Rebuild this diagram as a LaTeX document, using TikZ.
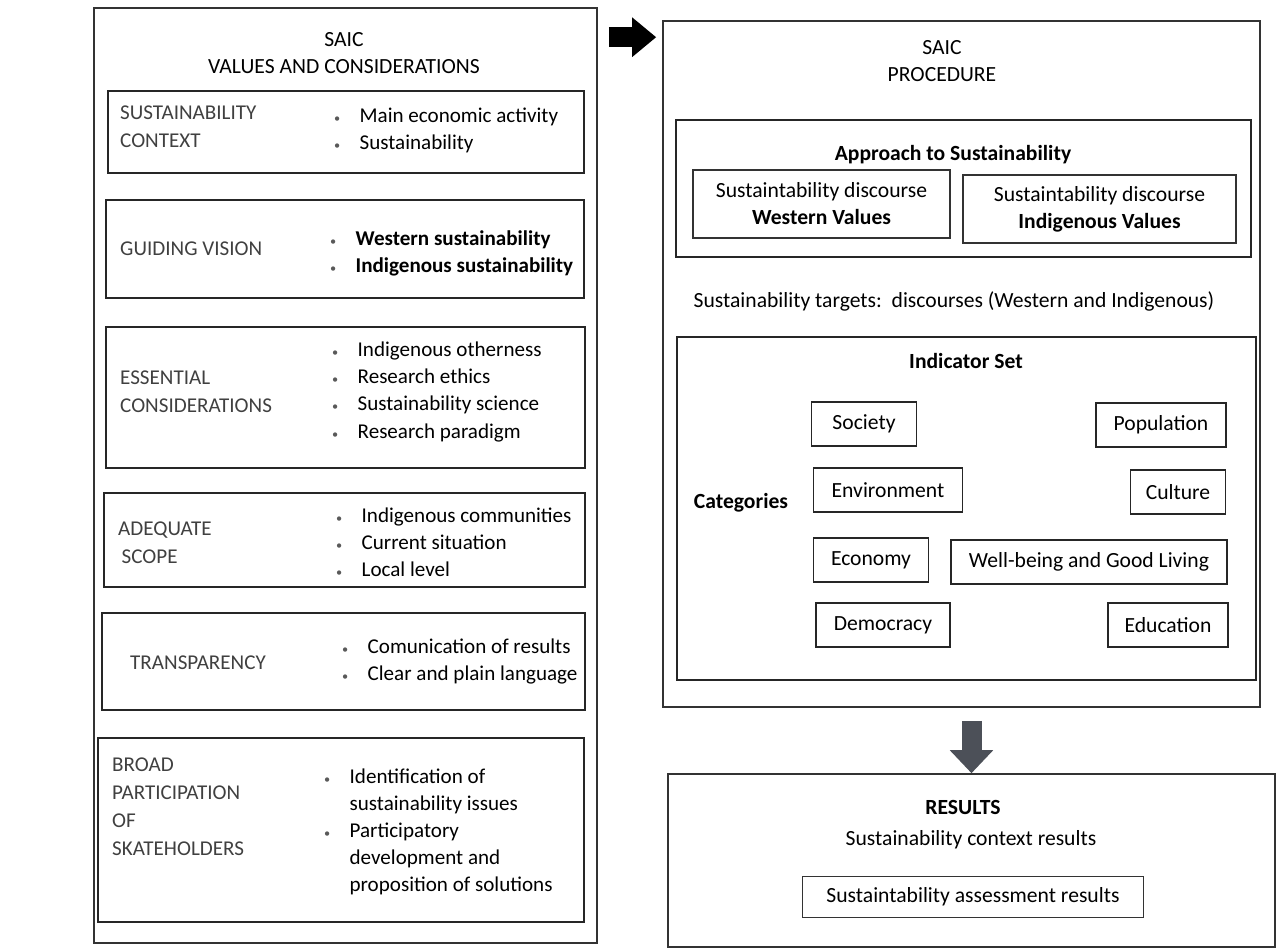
\documentclass[tikz,border=0pt]{standalone}
\usepackage{fontspec}
\setmainfont{Carlito}
\usetikzlibrary{arrows.meta,fit}

\definecolor{arrowgray}{RGB}{76,80,88}
\newcommand{\bl}{{\color{black!65}\scriptsize\textbullet}}
\newcommand{\itemlist}[1]{\begin{tabular}{@{}l@{\hspace{11pt}}l@{}}#1\end{tabular}}

\begin{document}
\begin{tikzpicture}[x=0.02cm, y=-0.02cm,
    frame/.style={draw=black!80, line width=0.9pt, inner sep=0pt},
    box/.style={draw=black!85, line width=1.6pt, inner sep=0pt},
    lbl/.style={font=\fontsize{12}{16}\selectfont, text=black!75, align=left, anchor=west},
    items/.style={font=\fontsize{12}{15.4}\selectfont, anchor=west},
    txt/.style={font=\fontsize{12.3}{15.4}\selectfont, align=center},
    bold/.style={font=\fontsize{12.3}{15.4}\selectfont\bfseries},
    cat/.style={draw=black!85, line width=1.1pt, font=\fontsize{12.3}{14}\selectfont, minimum height=0.88cm},
    fatarrow/.style={line width=0.4cm, draw=black, -{Triangle[width=0.76cm, length=0.48cm]}},
    downarrow/.style={line width=0.4cm, draw=arrowgray, -{Triangle[width=0.84cm, length=0.46cm]}}]
\useasboundingbox (0,0) rectangle (1279,951);

% left panel: values and considerations
\node[frame, fit={(94,8) (597,943)}] (values) {};
\node[txt] (valtitle) at (344,53) {SAIC\\VALUES AND CONSIDERATIONS};

\node[box, fit={(108,91) (584,173)}] (ctx) {};
\node[lbl] (ctxlbl) at (114,127) {SUSTAINABILITY\\CONTEXT};
\node[items] (ctxitems) at (328,131) {\itemlist{\bl & Main economic activity\\ \bl & Sustainability}};

\node[box, fit={(106,200) (584,298)}] (vision) {};
\node[lbl] (visionlbl) at (114,249) {GUIDING VISION};
\node[items] (visionitems) at (324,254) {\itemlist{\bl & \textbf{Western sustainability}\\ \bl & \textbf{Indigenous sustainability}}};

\node[box, fit={(106,327) (585,468)}] (essential) {};
\node[lbl] (essentiallbl) at (114,392) {ESSENTIAL\\CONSIDERATIONS};
\node[items] (essentialitems) at (326,392) {\itemlist{\bl & Indigenous otherness\\ \bl & Research ethics\\ \bl & Sustainability science\\ \bl & Research paradigm}};

\node[box, fit={(104,493) (585,587)}] (scope) {};
\node[lbl] (scopelbl) at (112,543) {ADEQUATE\\\,SCOPE};
\node[items] (scopeitems) at (330,544) {\itemlist{\bl & Indigenous communities\\ \bl & Current situation\\ \bl & Local level}};

\node[box, fit={(102,613) (585,710)}] (transp) {};
\node[lbl] (transplbl) at (124,663) {TRANSPARENCY};
\node[items] (transpitems) at (336,662) {\itemlist{\bl & Comunication of results\\ \bl & Clear and plain language}};

\node[box, fit={(98,738) (584,922)}] (broad) {};
\node[lbl] (broadlbl) at (106,807) {BROAD\\PARTICIPATION\\OF\\SKATEHOLDERS};
\node[items] (broaditems) at (318,832) {\itemlist{\bl & Identification of\\ & sustainability issues\\ \bl & Participatory\\ & development and\\ & proposition of solutions}};

% right panel: procedure
\node[frame, fit={(663,21) (1260,707)}] (proc) {};
\node[txt] (proctitle) at (942,61) {SAIC\\PROCEDURE};

\node[box, fit={(676,120) (1251,257)}] (approach) {};
\node[bold] (approachlbl) at (953,155) {Approach to Sustainability};
\node[frame, fit={(693,170) (950,238)}] (western) {};
\node[txt] at (western.center) {Sustaintability discourse\\\textbf{Western Values}};
\node[frame, fit={(963,175) (1236,243)}] (indig) {};
\node[txt] at (indig.center) {Sustaintability discourse\\\textbf{Indigenous Values}};

\node[txt] (targets) at (954,301) {Sustainability targets:\ \ discourses (Western and Indigenous)};

\node[box, fit={(677,337) (1256,680)}] (indicators) {};
\node[bold] (indlbl) at (966,361) {Indicator Set};
\node[bold] (catlbl) at (741,503) {Categories};

\node[cat, minimum width=2.1cm] (society) at (864,424) {Society};
\node[cat, minimum width=2.6cm, line width=0.8pt] (population) at (1161,425) {Population};
\node[cat, minimum width=2.98cm] (environment) at (888,490) {Environment};
\node[cat, minimum width=1.9cm] (culture) at (1178,492) {Culture};
\node[cat, minimum width=2.3cm] (economy) at (871,560) {Economy};
\node[cat, minimum width=5.52cm, line width=0.8pt] (wellbeing) at (1089,562) {Well-being and Good Living};
\node[cat, minimum width=2.68cm] (democracy) at (883,625) {Democracy};
\node[cat, minimum width=2.4cm, line width=0.8pt] (education) at (1168,625) {Education};

% results
\node[frame, fit={(668,774) (1275,947)}] (results) {};
\node[bold] (reslbl) at (963,807) {RESULTS};
\node[txt] (context) at (971,840) {Sustainability context results};
\node[frame, line width=0.7pt, minimum width=6.82cm, minimum height=0.82cm, txt] (assess) at (973,897) {Sustaintability assessment results};

% arrows between the panels
\coordinate (arrfrom) at ([shift={(0.22cm,-0.6cm)}]values.north east);
\draw[fatarrow, shorten >=0.12cm] (arrfrom) -- (arrfrom -| proc.west);
\draw[downarrow, shorten <=0.26cm] (proc.south -| results.north) -- (results.north);

\end{tikzpicture}
\end{document}
